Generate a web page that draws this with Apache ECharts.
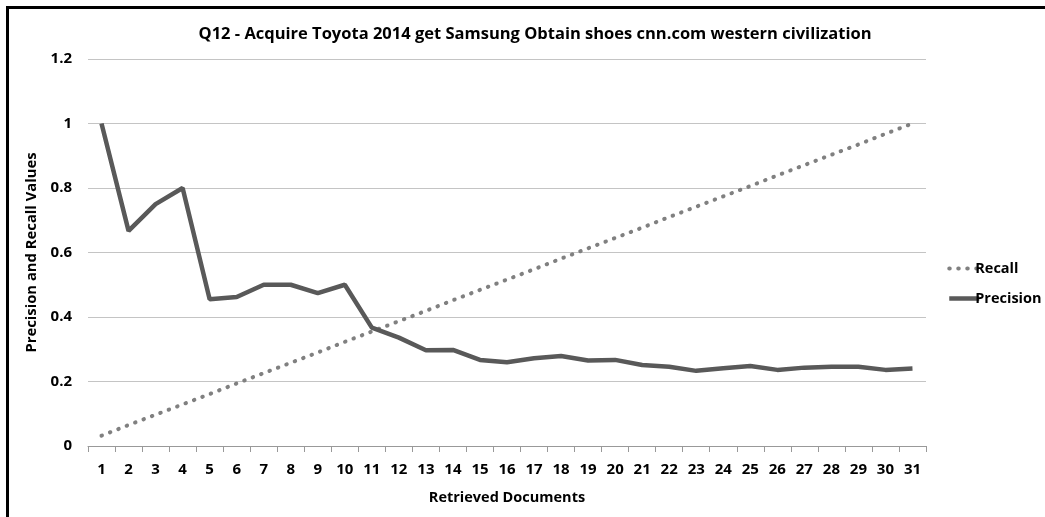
<!DOCTYPE html>
<html>
<head>
<meta charset="utf-8">
<script src="https://cdn.jsdelivr.net/npm/echarts@6/dist/echarts.min.js"></script>
<style>
  html, body { margin: 0; padding: 0; background: #fff; }
  #main { width: 1045px; height: 517px; }
</style>
</head>
<body>
<div id="main"></div>
<script>
var docs = ['1','2','3','4','5','6','7','8','9','10','11','12','13','14','15','16',
    '17','18','19','20','21','22','23','24','25','26','27','28','29','30','31'];
var recall = [0.032, 0.065, 0.097, 0.129, 0.161, 0.194, 0.226, 0.258, 0.290, 0.323,
    0.355, 0.387, 0.419, 0.452, 0.484, 0.516, 0.548, 0.581, 0.613, 0.645,
    0.677, 0.710, 0.742, 0.774, 0.806, 0.839, 0.871, 0.903, 0.935, 0.968, 1.0];
var precision = [1.0, 0.667, 0.75, 0.8, 0.455, 0.462, 0.5, 0.5, 0.474, 0.5,
    0.367, 0.336, 0.297, 0.298, 0.267, 0.26, 0.272, 0.279, 0.265, 0.267,
    0.251, 0.246, 0.233, 0.241, 0.248, 0.236, 0.243, 0.246, 0.246, 0.236, 0.24];

drawChart();

function drawChart() {
    var myChart = echarts.init(document.getElementById('main'));
    var font = '"Open Sans", sans-serif';
    var option = {
        animation: false,
        textStyle: { fontFamily: font },
        graphic: [{
            type: 'rect',
            shape: { x: 7.5, y: 7.5, width: 1100, height: 600 },
            style: { fill: 'none', stroke: '#000', lineWidth: 3 }
        }],
        title: {
            text: 'Q12 - Acquire Toyota 2014 get Samsung Obtain shoes cnn.com western civilization',
            left: 530,
            textAlign: 'center',
            top: 21,
            textStyle: { fontFamily: font, fontSize: 16.5, fontWeight: 'bold', color: '#000' }
        },
        legend: {
            orient: 'vertical',
            left: 942,
            top: 256,
            itemWidth: 30,
            itemHeight: 14,
            itemGap: 15,
            itemStyle: { opacity: 0 },
            lineStyle: { width: 'inherit' },
            data: ['Recall', 'Precision'],
            textStyle: { fontFamily: font, fontSize: 14.5, fontWeight: 'bold', color: '#000', padding: [0, 0, 0, -9] }
        },
        grid: { left: 88, right: 119, top: 59, bottom: 71, containLabel: false },
        xAxis: {
            type: 'category',
            data: docs,
            boundaryGap: true,
            name: 'Retrieved Documents',
            nameLocation: 'middle',
            nameGap: 44,
            nameTextStyle: { fontFamily: font, fontSize: 14.5, fontWeight: 'bold', color: '#000' },
            axisLine: { lineStyle: { color: '#999', width: 1 } },
            axisTick: { show: true, length: 6, lineStyle: { color: '#999' } },
            axisLabel: { fontFamily: font, fontSize: 15, fontWeight: 'bold', color: '#000', margin: 16, interval: 0 }
        },
        yAxis: {
            type: 'value',
            min: 0,
            max: 1.2,
            interval: 0.2,
            name: 'Precision and Recall Values',
            nameLocation: 'middle',
            nameGap: 45,
            nameTextStyle: { fontFamily: font, fontSize: 14.8, fontWeight: 'bold', color: '#000' },
            axisLine: { show: false },
            axisTick: { show: false },
            splitLine: { lineStyle: { color: '#c4c4c4', width: 1 } },
            axisLabel: { fontFamily: font, fontSize: 15, fontWeight: 'bold', color: '#000', margin: 16 }
        },
        series: [
            {
                name: 'Recall',
                type: 'line',
                data: recall,
                symbol: 'none',
                color: '#808080',
                lineStyle: { color: '#808080', width: 4, type: [0.5, 8.5], cap: 'round' }
            },
            {
                name: 'Precision',
                type: 'line',
                data: precision,
                symbol: 'none',
                color: '#595959',
                lineStyle: { color: '#595959', width: 4.5 }
            }
        ]
    };
    myChart.setOption(option);
}
</script>
</body>
</html>
